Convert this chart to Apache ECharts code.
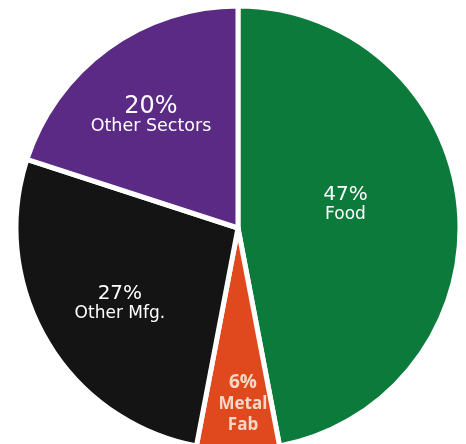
<!DOCTYPE html>
<html>
<head>
<meta charset="utf-8">
<script src="https://cdn.jsdelivr.net/npm/echarts@6/dist/echarts.min.js"></script>
<style>
  html, body { margin: 0; padding: 0; background: #fff; }
  #chart { width: 466px; height: 444px; }
</style>
</head>
<body>
<div id="chart"></div>
<script>
  // sectors, clockwise from 12 o'clock
  var sectors = ['Food', 'Metal Fab', 'Other Mfg.', 'Other Sectors'];
  var shares = [47, 6, 27, 20];
  var colors = ['#0c7a3b', '#e0491d', '#141414', '#5a2a84'];
  var labelOffsets = [[-6, -13], [5, 62], [-20, 17], [-20, -20]];
  var pctStyle = ['p', 'p2', 'p', 'pBig'];

  var chart = echarts.init(document.getElementById('chart'));
  window.onresize = chart.resize;

  var data = sectors.map(function (name, i) {
    return {
      name: name,
      value: shares[i],
      itemStyle: { color: colors[i] },
      label: {
        offset: labelOffsets[i],
        formatter: i === 1
          ? '{p2|{c}%}\n{n2|Metal}\n{n2|Fab}'
          : '{' + pctStyle[i] + '|{c}%}\n{' + (i === 3 ? 'nBig' : 'n') + '|{b}}'
      }
    };
  });

  chart.setOption({
    animation: false,
    series: [
      {
        type: 'pie',
        center: [238, 228],
        radius: 222,
        startAngle: 90,
        clockwise: true,
        itemStyle: {
          borderColor: '#ffffff',
          borderWidth: 5
        },
        label: {
          show: true,
          position: 'inside',
          fontFamily: 'DejaVu Sans',
          color: '#ffffff',
          rich: {
            p: { fontSize: 20, lineHeight: 21, color: '#ffffff', fontFamily: 'DejaVu Sans' },
            pBig: { fontSize: 24, lineHeight: 22, color: '#ffffff', fontFamily: 'DejaVu Sans' },
            n: { fontSize: 17, lineHeight: 19, color: '#ffffff', fontFamily: 'DejaVu Sans' },
            nBig: { fontSize: 17.5, lineHeight: 19, color: '#ffffff', fontFamily: 'DejaVu Sans' },
            p2: { fontSize: 19, lineHeight: 22, color: '#f7d8c8', fontWeight: 'bold', fontFamily: 'Open Sans' },
            n2: { fontSize: 17, lineHeight: 21, color: '#f7d8c8', fontWeight: 'bold', fontFamily: 'Open Sans' }
          }
        },
        labelLine: { show: false },
        data: data
      }
    ]
  });
</script>
</body>
</html>
